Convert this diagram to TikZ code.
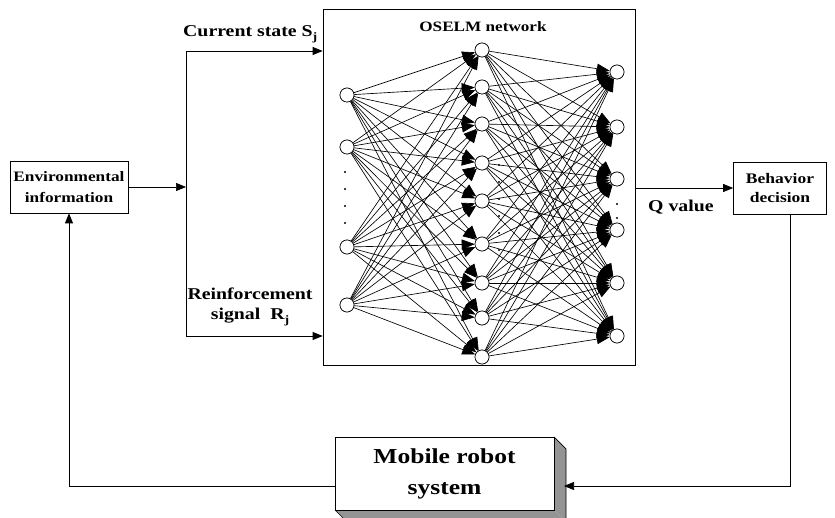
\documentclass[tikz,border=0pt]{standalone}
\usepackage{fontspec}
\setmainfont{Liberation Serif}[FakeStretch=1.2]
\usetikzlibrary{arrows.meta}
\tikzset{
  box/.style={draw, line width=0.7pt, align=center, inner sep=0pt, fill=white},
  lbl/.style={font=\bfseries\fontsize{16.5}{20}\selectfont, inner sep=0pt, align=center},
  neuron/.style={circle, draw, line width=0.6pt, minimum size=14pt, inner sep=0pt, fill=white},
  flow/.style={line width=0.7pt, -{Triangle[length=10pt,width=8pt]}},
  plain/.style={line width=0.7pt},
  syn/.style={line width=0.65pt, -{Triangle[length=13pt,width=10pt]}},
  dotmark/.style={circle, fill=black, inner sep=0pt, minimum size=2.2pt}
}
\newcommand{\subj}{\raisebox{-3.5pt}{\fontsize{11.5}{11.5}\selectfont j}}
\begin{document}
\begin{tikzpicture}[x=1pt,y=-1pt]
\useasboundingbox (0,0) rectangle (835,518);

% main boxes
\node[box, minimum width=118pt, minimum height=52pt, font=\bfseries\fontsize{14.4}{21}\selectfont] (env) at (69,187) {Environmental\\information};
\node[box, minimum width=312pt, minimum height=356pt] (net) at (479,187) {};
\node[box, minimum width=93pt, minimum height=52pt, font=\bfseries\fontsize{14.6}{19}\selectfont] (beh) at (780,188) {Behavior\\decision};

% mobile robot 3D box
\fill[black!42] (554,437) -- (566,449) -- (566,522) -- (554,510) -- cycle;
\fill[black!42] (335,510) -- (347,522) -- (566,522) -- (554,510) -- cycle;
\draw[line width=0.7pt] (554,437) -- (566,449) -- (566,522);
\draw[line width=0.7pt] (335,510) -- (347,522);
\node[box, minimum width=219pt, minimum height=73pt, font=\bfseries\fontsize{21.3}{31}\selectfont] (mob) at (444.5,473.5) {Mobile robot\\system};

% labels
\node[lbl, anchor=base west] (cs) at (183,37) {Current state S\subj};
\node[lbl, anchor=base] (rs1) at (250,300) {Reinforcement};
\node[lbl, anchor=base] (rs2) at (250,320) {signal~~R\subj};
\node[lbl, anchor=base, font=\bfseries\fontsize{14.3}{16}\selectfont] (title) at (483,32) {OSELM network};
\node[lbl, anchor=base west] (qv) at (648,212) {Q value};

% input flow
\coordinate (split) at (186,187);
\coordinate (stop) at (186,51);
\coordinate (sbot) at (186,336);
\draw[flow] (env.east |- split) -- (split);
\draw[plain] (stop) -- (sbot);
\draw[flow] (stop) -- (stop -| net.west);
\draw[flow] (sbot) -- (sbot -| net.west);

% output flow
\draw[flow] (net.east |- beh.west) -- (beh.west);
\coordinate (rcorner) at (790,486);
\coordinate (rin) at (564,486);
\draw[flow] (beh.south -| rcorner) -- (rcorner) -- (rin);
\coordinate (lout) at (335,486);
\coordinate (lcorner) at (69,486);
\draw[flow] (lout) -- (lcorner) -- (env.south);

% neurons
\foreach \n/\y in {1/95,2/147,3/247,4/305} \node[neuron] (i\n) at (347,\y) {};
\foreach \n/\y in {1/50,2/87,3/124,4/163,5/201,6/244,7/283,8/318,9/357} \node[neuron] (h\n) at (482,\y) {};
\foreach \n/\y in {1/72,2/127,3/179,4/230,5/283,6/336} \node[neuron] (o\n) at (617,\y) {};

% connections
\foreach \a in {1,...,4} \foreach \b in {1,...,9} \draw[syn] (i\a) -- (h\b);
\foreach \a in {1,...,9} \foreach \b in {1,...,6} \draw[syn] (h\a) -- (o\b);

% redraw neurons on top
\foreach \n/\y in {1/95,2/147,3/247,4/305} \node[neuron] at (347,\y) {};
\foreach \n/\y in {1/50,2/87,3/124,4/163,5/201,6/244,7/283,8/318,9/357} \node[neuron] at (482,\y) {};
\foreach \n/\y in {1/72,2/127,3/179,4/230,5/283,6/336} \node[neuron] at (617,\y) {};

% ellipsis dots
\foreach \y in {172,189,206,223} \node[dotmark] at (345,\y) {};
\foreach \y in {165,182,199,216,233,250} \node[dotmark] at (499,\y) {};
\foreach \y in {204,218} \node[dotmark] at (617,\y) {};
\end{tikzpicture}
\end{document}
